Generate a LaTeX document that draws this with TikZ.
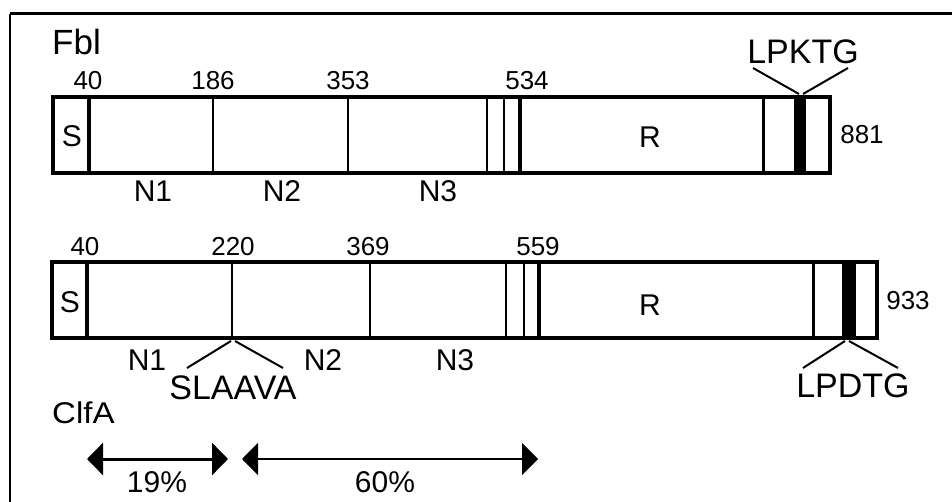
\documentclass[tikz,border=0pt]{standalone}
\usepackage{fontspec}
\setmainfont{Liberation Sans}
\newfontfamily\heavy{Liberation Sans}
\usetikzlibrary{arrows.meta}
\begin{document}
\begin{tikzpicture}[x=1pt,y=-1pt,
  bar/.style={line width=4pt},
  thin/.style={line width=1.5pt},
  mid/.style={line width=2pt},
  thick/.style={line width=3.5pt},
  num/.style={inner sep=0pt,font=\heavy\fontsize{26}{26}\selectfont},
  lab/.style={inner sep=0pt,font=\heavy\fontsize{30}{30}\selectfont},
  big/.style={inner sep=0pt,font=\heavy\fontsize{34}{34}\selectfont},
  tick/.style={line width=2pt},
  dblarrow/.style={{Triangle[length=16pt,width=32pt]}-{Triangle[length=16pt,width=32pt]}}
]
\useasboundingbox (0,0) rectangle (952,502);
% frame
\draw[line width=3pt] (10,14) -- (952,14);
\draw[line width=1.5pt] (10,14) -- (10,502);

% ---------- Fbl ----------
\node[big, anchor=west, font=\heavy\fontsize{35}{35}\selectfont] (fbl) at (52,42) {Fbl};
\draw[thick] (89,97) -- (89,173);
\draw[thin] (213,97) -- (213,173);
\draw[thin] (348,97) -- (348,173);
\draw[mid] (487,97) -- (487,173);
\draw[mid] (504,97) -- (504,173);
\draw[thick] (520,97) -- (520,173);
\draw[line width=3pt] (763,97) -- (763,173);
\fill (794,97) rectangle (806,173);
\draw[bar] (53,97) rectangle (830,173);
\node[num] (f40) at (88,81) {40};
\node[num] (f186) at (213,81) {186};
\node[num] (f353) at (348,81) {353};
\node[num] (f534) at (527,81) {534};
\node[num] (f881) at (862,135) {881};
\node[lab] (fS) at (72,136) {S};
\node[lab] (fR) at (650,137) {R};
\node[lab] (fN1) at (153,191) {N1};
\node[lab] (fN2) at (282,191) {N2};
\node[lab] (fN3) at (438,191) {N3};
\node[big] (lpktg) at (803,52) {LPKTG};
\coordinate (lpktgL) at (753,68);
\coordinate (lpktgR) at (848,68);
\coordinate (fbandL) at (799,94);
\coordinate (fbandR) at (803,94);
\draw[tick] (lpktgL) -- (fbandL);
\draw[tick] (lpktgR) -- (fbandR);

% ---------- ClfA ----------
\draw[thick] (87,262) -- (87,338);
\draw[mid] (232,262) -- (232,338);
\draw[thin] (370,262) -- (370,338);
\draw[mid] (506,262) -- (506,338);
\draw[mid] (524,262) -- (524,338);
\draw[thick] (539,262) -- (539,338);
\draw[line width=3pt] (813,262) -- (813,338);
\fill (842,262) rectangle (856,338);
\draw[bar] (52,262) rectangle (877,338);
\node[num] (c40) at (85,247) {40};
\node[num] (c220) at (233,247) {220};
\node[num] (c369) at (368,247) {369};
\node[num] (c559) at (538,247) {559};
\node[num] (c933) at (908,301) {933};
\node[lab] (cS) at (70,302) {S};
\node[lab] (cR) at (650,305) {R};
\node[lab] (cN1) at (147,360) {N1};
\node[lab] (cN2) at (323,360) {N2};
\node[lab] (cN3) at (455,360) {N3};
\node[big] (slaava) at (233,388) {SLAAVA};
\coordinate (sl1) at (187,368);
\coordinate (sl2) at (283,368);
\coordinate (cut1) at (231,341);
\coordinate (cut2) at (235,341);
\draw[tick] (cut1) -- (sl1);
\draw[tick] (cut2) -- (sl2);
\node[big] (lpdtg) at (853,386) {LPDTG};
\coordinate (lp1) at (803,368);
\coordinate (lp2) at (898,368);
\coordinate (cband1) at (845,341);
\coordinate (cband2) at (849,341);
\draw[tick] (cband1) -- (lp1);
\draw[tick] (cband2) -- (lp2);
\node[lab, anchor=west, xscale=1.1] (clfa) at (52,413) {ClfA};

% ---------- arrows ----------
\coordinate (a1l) at (87,459);
\coordinate (a1r) at (228,459);
\coordinate (a2l) at (242,459);
\coordinate (a2r) at (538,459);
\draw[dblarrow, line width=3pt] (a1l) -- (a1r);
\draw[dblarrow, line width=2pt] (a2l) -- (a2r);
\node[lab] (p19) at (157,482) {19\%};
\node[lab] (p60) at (385,482) {60\%};
\end{tikzpicture}
\end{document}
